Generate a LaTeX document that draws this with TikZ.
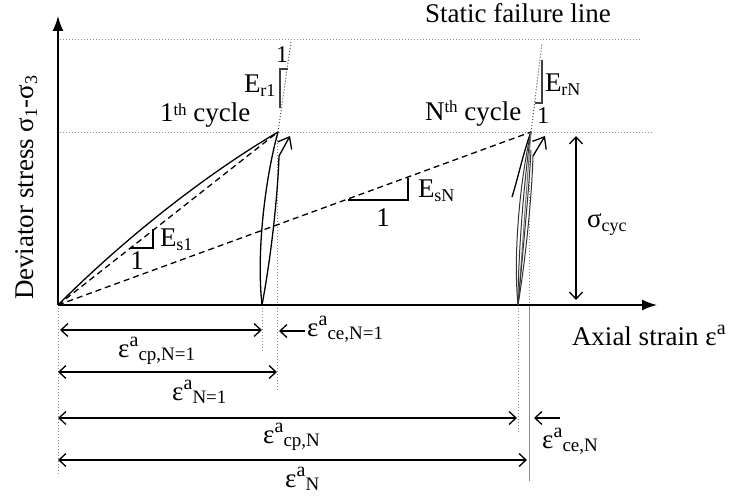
\documentclass[tikz,border=0pt]{standalone}
\usepackage{fontspec}
\setmainfont{Liberation Serif}
\usetikzlibrary{arrows.meta}
\newcommand\supx[2][8pt]{\raisebox{#1}{\fontsize{17}{17}\selectfont #2}}
\newcommand\subx[2][-4pt]{\raisebox{#1}{\fontsize{18}{18}\selectfont #2}}
\newcommand\epsa[1]{ε\kern0.3pt\raisebox{11pt}{\fontsize{20}{20}\selectfont a}\raisebox{-3pt}{\fontsize{19}{19}\selectfont #1}}
\begin{document}
\begin{tikzpicture}[x=1pt,y=-1pt,
  lbl/.style={font=\fontsize{27}{30}\selectfont, inner sep=0pt, outer sep=0pt},
  axisline/.style={line width=1.6pt, -{Latex[length=15pt,width=11pt]}},
  guide/.style={black!45, dotted, line width=1pt},
  curve/.style={line width=1.3pt},
  loopN/.style={line width=1pt, black!80},
  secant/.style={line width=1.3pt, dash pattern=on 6pt off 4pt},
  tri/.style={line width=1.5pt, black!75},
  dimboth/.style={line width=1.3pt, {Straight Barb[length=7pt,width=13pt]}-{Straight Barb[length=7pt,width=13pt]}},
  dimone/.style={line width=1.3pt, -{Straight Barb[length=7pt,width=13pt]}},
  openarrow/.style={line width=1.3pt, -{Straight Barb[length=10pt,width=16pt]}},
]
\useasboundingbox (0,0) rectangle (729,497);

% key points
\coordinate (O) at (58,305);
\coordinate (Ytip) at (58,16);
\coordinate (Xtip) at (657,305);
\coordinate (P1) at (278,132);
\coordinate (B1) at (262,305);
\coordinate (PN) at (531,132);
\coordinate (BN) at (518,305);

% horizontal guide lines
\coordinate (SFa) at (60,40);  \coordinate (SFb) at (640,40);
\coordinate (CYa) at (60,133); \coordinate (CYb) at (652,133);
\draw[guide] (SFa) -- (SFb);
\draw[guide] (CYa) -- (CYb);

% reloading modulus lines
\coordinate (R1top) at (291,42);
\coordinate (RNtop) at (542,43);
\draw[guide, black!70] (P1) -- (R1top);
\draw[guide, black!70] (PN) -- (RNtop);

% vertical guides
\coordinate (G0) at (58,476);
\coordinate (G1b) at (262,352);
\coordinate (G2t) at (277,134); \coordinate (G2b) at (277,390);
\coordinate (G3b) at (518,433);
\coordinate (G4t) at (529,134); \coordinate (G4m) at (529,305); \coordinate (G4b) at (529,481);
\draw[guide] (O) -- (G0);
\draw[guide] (B1) -- (G1b);
\draw[guide] (G2t) -- (G2b);
\draw[guide] (BN) -- (G3b);
\draw[guide] (G4t) -- (G4m);
\draw[black!45, line width=0.8pt] (G4m) -- (G4b);

% axes
\draw[axisline] (O) -- (Ytip);
\draw[axisline] (O) -- (Xtip);

% secant lines
\draw[secant] (O) -- (P1);
\draw[secant] (O) -- (PN);

% first cycle
\draw[curve] (O) .. controls (120,243) and (200,178) .. (P1);
\coordinate (A1s) at (279,156);
\coordinate (A1e) at (290,136);
\draw[curve] (P1) .. controls (266,175) and (256,250) .. (B1);
\draw[curve] (B1) .. controls (272,252) and (278,190) .. (A1s);
\draw[openarrow] (A1s) -- (A1e);

% N-th cycle
\coordinate (INs) at (512,197);
\coordinate (ANs) at (533,156);
\coordinate (ANe) at (545,136);
\coordinate (ANs2) at (531,150);
\draw[curve] (INs) .. controls (518,178) and (524,150) .. (PN);
\draw[loopN] (PN) .. controls (520,180) and (513,255) .. (BN);
\draw[loopN] (PN) .. controls (524,180) and (518,255) .. (BN);
\draw[loopN, black!55] (PN) .. controls (527,180) and (522,255) .. (BN);
\draw[loopN] (BN) .. controls (523,250) and (529,190) .. (ANs2);
\draw[loopN] (BN) .. controls (527,250) and (532,190) .. (ANs);
\draw[openarrow] (ANs) -- (ANe);

% slope triangles
\draw[tri, black] (130,248) -- (153,248) -- (153,229);
\draw[tri, black] (348,200) -- (408,200) -- (408,178);
\draw[tri] (288,69) -- (280,69) -- (280,108);
\draw[tri] (542,60) -- (542,103) -- (535,103);

% labels
\node[lbl, anchor=base west] (tSF) at (425,23) {Static failure line};
\node[lbl, anchor=base west] (t1c) at (160,122) {1\supx[6pt]{th} cycle};
\node[lbl, anchor=base west] (tNc) at (425,121) {N\supx{th} cycle};
\node[lbl, anchor=base west] (tEr1) at (244,93) {E\subx{r1}};
\node[lbl, anchor=base, font=\fontsize{24}{26}\selectfont] (tEr1one) at (282,63) {1};
\node[lbl, anchor=base west] (tErN) at (545,92) {E\subx{rN}};
\node[lbl, anchor=base, font=\fontsize{24}{26}\selectfont] (tErNone) at (543,124) {1};
\node[lbl, anchor=base west] (tEs1) at (160,247) {E\subx{s1}};
\node[lbl, anchor=base] (tEs1one) at (137,270) {1};
\node[lbl, anchor=base west] (tEsN) at (418,198) {E\subx{sN}};
\node[lbl, anchor=base] (tEsNone) at (383,227) {1};
\node[lbl, anchor=base west] (tAx) at (572,345) {Axial strain ε\raisebox{11pt}{\fontsize{20}{20}\selectfont a}};
\node[lbl, anchor=base west] (tDev) at (33,300) [rotate=90] {Deviator stress σ\subx{1}-σ\subx{3}};

% sigma_cyc
\coordinate (Sa) at (576,136);
\coordinate (Sb) at (576,300);
\draw[dimboth] (Sa) -- (Sb);
\node[lbl, anchor=base west] (tScyc) at (587,228) {σ\subx{cyc}};

% strain dimensions
\coordinate (d1a) at (60,330);  \coordinate (d1b) at (262,330);
\coordinate (c1a) at (305,331); \coordinate (c1b) at (279,331);
\coordinate (d2a) at (58,372);  \coordinate (d2b) at (277,372);
\coordinate (d3a) at (58,418);  \coordinate (d3b) at (517,418);
\coordinate (c2a) at (560,418); \coordinate (c2b) at (534,418);
\coordinate (d4a) at (58,460);  \coordinate (d4b) at (527,460);
\draw[dimboth] (d1a) -- (d1b);
\draw[dimone] (c1a) -- (c1b);
\draw[dimboth] (d2a) -- (d2b);
\draw[dimboth] (d3a) -- (d3b);
\draw[dimone] (c2a) -- (c2b);
\draw[dimboth] (d4a) -- (d4b);

\node[lbl, anchor=base west] (tcp1) at (118,358) {\epsa{cp,N=1}};
\node[lbl, anchor=base west] (tce1) at (307,337) {\epsa{ce,N=1}};
\node[lbl, anchor=base west] (tN1) at (172,400) {\epsa{N=1}};
\node[lbl, anchor=base west] (tcpN) at (263,443) {\epsa{cp,N}};
\node[lbl, anchor=base west] (tceN) at (542,448) {\epsa{ce,N}};
\node[lbl, anchor=base west] (tNN) at (285,487) {\epsa{N}};
\end{tikzpicture}
\end{document}
